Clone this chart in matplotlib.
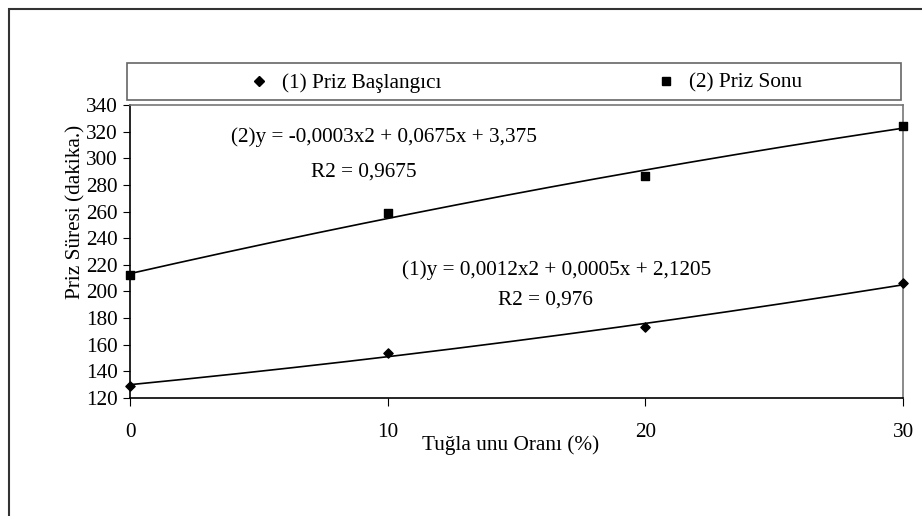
import numpy as np
import matplotlib
matplotlib.use("Agg")
import matplotlib.pyplot as plt
from matplotlib.patches import Rectangle
from matplotlib.lines import Line2D

plt.rcParams['font.family'] = ['Liberation Serif', 'DejaVu Serif']

oran = [0, 10, 20, 30]
priz_baslangic = [129, 154, 173, 206]
priz_sonu = [212, 259, 287, 324]
y_ticks = list(range(120, 341, 20))
x_ticks = [0, 10, 20, 30]

W, H = 922, 516
fig = plt.figure(figsize=(W / 100, H / 100), dpi=100)
fs = 15.3

def fx(px):
    return px / W

def fy(py):
    return 1 - py / H

# outer frame, cut off at right and bottom
fig.patches.append(Rectangle((fx(8.5), -0.1), 1.2, fy(8.5) + 0.1, transform=fig.transFigure,
                             fill=False, lw=1.5, ec='#333333', clip_on=False))

ax = fig.add_axes([fx(130), fy(398), fx(903) - fx(130), fy(105) - fy(398)])

ax.scatter(oran, priz_baslangic, marker='D', s=22, color='black', zorder=3, clip_on=False)
ax.scatter(oran, priz_sonu, marker='s', s=28, color='black', zorder=3, clip_on=False)

# polynomial trend lines (degree 2), as in the original
xs = np.linspace(0, 30, 200)
for ys in (priz_baslangic, priz_sonu):
    c = np.polyfit(oran, ys, 2)
    ax.plot(xs, np.polyval(c, xs), color='black', lw=1.2)

ax.set_xlim(0, 30)
ax.set_ylim(120, 340)
ax.set_xticks(x_ticks)
ax.set_yticks(y_ticks)
ax.tick_params(axis='both', labelsize=fs, direction='out', color='black')
ax.tick_params(axis='x', length=6, pad=12)
ax.tick_params(axis='y', length=5, pad=4)
for s in ('left', 'bottom'):
    ax.spines[s].set_color('black')
    ax.spines[s].set_linewidth(1.2)
for s in ('right', 'top'):
    ax.spines[s].set_color('#777777')
    ax.spines[s].set_linewidth(1.2)

fig.text(fx(76), fy(212), 'Priz Süresi (dakika.)', rotation=90, ha='center', va='center', fontsize=fs)
fig.text(fx(511), fy(450), 'Tuğla unu Oranı (%)', ha='center', va='baseline', fontsize=fs)

fig.text(fx(384), fy(142), '(2)y = -0,0003x2 + 0,0675x + 3,375', ha='center', va='baseline', fontsize=fs)
fig.text(fx(364), fy(176.5), 'R2 = 0,9675', ha='center', va='baseline', fontsize=fs)
fig.text(fx(557), fy(275), '(1)y = 0,0012x2 + 0,0005x + 2,1205', ha='center', va='baseline', fontsize=fs)
fig.text(fx(545), fy(305), 'R2 = 0,976', ha='center', va='baseline', fontsize=fs)

# legend box
fig.patches.append(Rectangle((fx(127), fy(100)), fx(901) - fx(127), fy(63) - fy(100),
                             transform=fig.transFigure, fill=False, lw=1.2, ec='#666666'))
handles = [Line2D([], [], ls='none', marker='D', ms=5, color='black'),
           Line2D([], [], ls='none', marker='s', ms=5.5, color='black')]
fig.legend(handles, ['(1) Priz Başlangıcı', '(2) Priz Sonu'], ncol=2, frameon=False,
           loc='center left', bbox_to_anchor=(fx(248), fy(83)), fontsize=fs,
           handlelength=1.0, handletextpad=0.6, columnspacing=10.07, borderpad=0, borderaxespad=0)

fig.savefig('out.png', dpi=100)
